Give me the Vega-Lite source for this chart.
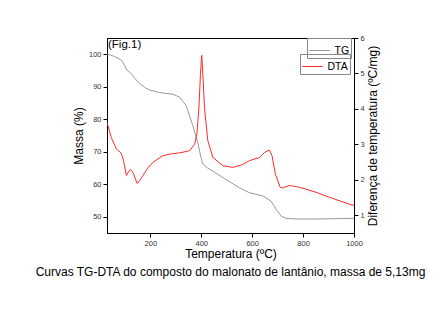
{
  "$schema": "https://vega.github.io/schema/vega-lite/v6.json",
  "width": 247,
  "height": 195,
  "autosize": {"type": "none"},
  "padding": {"left": 107, "top": 38, "right": 86, "bottom": 103},
  "background": "white",
  "config": {
    "font": "Liberation Sans",
    "view": {"stroke": "#000", "strokeWidth": 1},
    "axis": {
      "grid": false,
      "domainColor": "#000",
      "tickColor": "#000",
      "tickSize": 4,
      "labelFontSize": 7.5,
      "labelColor": "#333",
      "labelPadding": 2,
      "labelOverlap": false,
      "labelFlush": false,
      "titleFontSize": 12,
      "titleFontWeight": "normal",
      "titleColor": "#000"
    },
    "legend": {
      "orient": "none",
      "strokeColor": "#888",
      "padding": 1.5,
      "symbolType": "stroke",
      "symbolSize": 420,
      "symbolStrokeWidth": 1,
      "labelFontSize": 10.5,
      "labelColor": "#000",
      "title": null
    }
  },
  "datasets": {
    "tg": [
      {"T": 30, "M": 100.1}, {"T": 34, "M": 100}, {"T": 60, "M": 99.3}, {"T": 86, "M": 98.2},
      {"T": 100, "M": 96.5}, {"T": 106, "M": 95.3}, {"T": 125, "M": 94.1}, {"T": 140, "M": 92.5},
      {"T": 158, "M": 91}, {"T": 180, "M": 89.7}, {"T": 197, "M": 89}, {"T": 236, "M": 88.2},
      {"T": 289, "M": 87.7}, {"T": 315, "M": 86.8}, {"T": 341, "M": 84.2}, {"T": 367, "M": 78},
      {"T": 387, "M": 72.7}, {"T": 397, "M": 69}, {"T": 406, "M": 66.3}, {"T": 425, "M": 65},
      {"T": 446, "M": 64}, {"T": 490, "M": 61.8}, {"T": 550, "M": 58.9}, {"T": 589, "M": 57.4},
      {"T": 642, "M": 56.4}, {"T": 674, "M": 54.8}, {"T": 694, "M": 52.3}, {"T": 714, "M": 50.2},
      {"T": 733, "M": 49.5}, {"T": 773, "M": 49.3}, {"T": 850, "M": 49.3}, {"T": 920, "M": 49.4},
      {"T": 1000, "M": 49.5}
    ],
    "dta": [
      {"T": 30, "D": 3.62}, {"T": 34, "D": 3.52}, {"T": 47, "D": 3.19}, {"T": 67, "D": 2.87},
      {"T": 86, "D": 2.75}, {"T": 95, "D": 2.54}, {"T": 106, "D": 2.12}, {"T": 114, "D": 2.22},
      {"T": 122, "D": 2.29}, {"T": 132, "D": 2.21}, {"T": 148, "D": 1.9}, {"T": 158, "D": 1.98},
      {"T": 171, "D": 2.12}, {"T": 190, "D": 2.33}, {"T": 210, "D": 2.49}, {"T": 249, "D": 2.68},
      {"T": 280, "D": 2.73}, {"T": 315, "D": 2.76}, {"T": 354, "D": 2.82}, {"T": 374, "D": 3.0},
      {"T": 383, "D": 3.29}, {"T": 391, "D": 4.03}, {"T": 397, "D": 4.97}, {"T": 402, "D": 5.51},
      {"T": 407, "D": 4.9}, {"T": 413, "D": 4.03}, {"T": 426, "D": 3.1}, {"T": 446, "D": 2.63},
      {"T": 485, "D": 2.4}, {"T": 524, "D": 2.35}, {"T": 563, "D": 2.43}, {"T": 589, "D": 2.54},
      {"T": 629, "D": 2.63}, {"T": 648, "D": 2.77}, {"T": 668, "D": 2.84}, {"T": 678, "D": 2.68},
      {"T": 691, "D": 2.17}, {"T": 710, "D": 1.79}, {"T": 720, "D": 1.77}, {"T": 746, "D": 1.84},
      {"T": 786, "D": 1.79}, {"T": 850, "D": 1.65}, {"T": 903, "D": 1.51}, {"T": 982, "D": 1.31},
      {"T": 1000, "D": 1.28}
    ]
  },
  "title": {
    "text": "Curvas TG-DTA do composto do malonato de lantânio, massa de 5,13mg",
    "orient": "bottom",
    "anchor": "middle",
    "fontSize": 12,
    "fontWeight": "normal",
    "color": "#000",
    "offset": 7
  },
  "layer": [
    {
      "layer": [
        {
          "data": {"name": "tg"},
          "mark": {"type": "line", "strokeWidth": 1, "clip": true},
          "encoding": {
            "x": {
              "field": "T", "type": "quantitative",
              "scale": {"domain": [30, 1000], "nice": false, "zero": false},
              "axis": {"title": "Temperatura (ºC)", "values": [200, 400, 600, 800, 1000], "format": "d", "titlePadding": 2, "labelOverlap": false}
            },
            "y": {
              "field": "M", "type": "quantitative",
              "scale": {"domain": [45, 105], "nice": false, "zero": false},
              "axis": {"title": "Massa (%)", "values": [50, 60, 70, 80, 90, 100], "format": "d", "titlePadding": 3, "labelOverlap": false, "labelFlush": false, "labelBound": false}
            },
            "color": {
              "datum": "TG",
              "scale": {"range": ["#999999"]},
              "legend": {"legendX": 200, "legendY": 0}
            }
          }
        },
        {
          "data": {"values": [{"label": "(Fig.1)", "T": 30, "M": 105}]},
          "mark": {"type": "text", "align": "left", "baseline": "top", "fontSize": 11.5, "color": "#000", "dx": 1, "dy": 1},
          "encoding": {
            "x": {"field": "T", "type": "quantitative"},
            "y": {"field": "M", "type": "quantitative", "axis": {"title": "Massa (%)", "values": [50, 60, 70, 80, 90, 100], "format": "d", "titlePadding": 3, "labelOverlap": false}},
            "text": {"field": "label"}
          }
        }
      ]
    },
    {
      "data": {"name": "dta"},
      "mark": {"type": "line", "strokeWidth": 1, "clip": true},
      "encoding": {
        "x": {"field": "T", "type": "quantitative"},
        "y": {
          "field": "D", "type": "quantitative",
          "scale": {"domain": [0.5, 6], "nice": false, "zero": false},
          "axis": {"orient": "right", "title": "Diferença de temperatura (ºC/mg)", "titleAngle": 270, "titleBaseline": "top", "values": [1, 2, 3, 4, 5, 6], "format": "d", "titlePadding": 3, "labelOverlap": false}
        },
        "color": {
          "datum": "DTA",
          "scale": {"range": ["#ff2a2a"]},
          "legend": {"legendX": 193, "legendY": 16}
        }
      }
    }
  ],
  "resolve": {"scale": {"y": "independent", "color": "independent"}}
}
